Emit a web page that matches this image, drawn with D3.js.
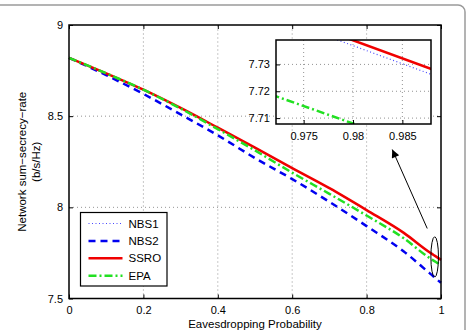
<!DOCTYPE html>
<html>
<head>
<meta charset="utf-8">
<script src="https://cdn.jsdelivr.net/npm/d3@7"></script>
<style>
  body { margin: 0; background: #fff; }
  text { font-family: "Liberation Sans", Arial, sans-serif; }
</style>
</head>
<body>
<div id="chart"></div>
<script>
// data
const prob = [0, 0.1, 0.2, 0.3, 0.4, 0.5, 0.6, 0.7, 0.8, 0.9, 0.97, 0.98, 0.99, 1];
const nbs1 = [8.819, 8.734, 8.644, 8.544, 8.436, 8.326, 8.214, 8.104, 7.984, 7.859, 7.7505, 7.737, 7.7235, 7.710];
const nbs2 = [8.82, 8.725, 8.622, 8.51, 8.395, 8.27, 8.155, 8.03, 7.897, 7.758, 7.638, 7.621, 7.603, 7.586];
const ssro = [8.82, 8.735, 8.645, 8.545, 8.437, 8.327, 8.215, 8.105, 7.985, 7.86, 7.7525, 7.739, 7.7255, 7.712];
const epa = [8.82, 8.735, 8.645, 8.542, 8.429, 8.312, 8.19, 8.074, 7.955, 7.83, 7.721, 7.708, 7.695, 7.682];

const xTicks = [0, 0.2, 0.4, 0.6, 0.8, 1];
const yTicks = [7.5, 8, 8.5, 9];
const insetXTicks = [0.975, 0.98, 0.985];
const insetYTicks = [7.71, 7.72, 7.73];

const series = [
  { name: "NBS1", values: nbs1, color: "#4848ff", width: 1.2, dash: "1,2.5" },
  { name: "NBS2", values: nbs2, color: "#0000f0", width: 2.5, dash: "7,5" },
  { name: "SSRO", values: ssro, color: "#f00000", width: 2.5, dash: null },
  { name: "EPA", values: epa, color: "#22e022", width: 2.5, dash: "8,3,2,3" }
];

const width = 468, height = 330;
const margin = { top: 25, right: 27, bottom: 31.5, left: 69 };

const svg = d3.select("#chart").append("svg")
  .attr("width", width)
  .attr("height", height);

// figure frame
svg.append("rect")
  .attr("x", -10).attr("y", 5)
  .attr("width", 475).attr("height", 340)
  .attr("rx", 7)
  .attr("fill", "none")
  .attr("stroke", "#9a9a9a")
  .attr("stroke-width", 1.5);

const x = d3.scaleLinear().domain([0, 1]).range([margin.left, width - margin.right]);
const y = d3.scaleLinear().domain([7.5, 9]).range([height - margin.bottom, margin.top]);

// grid
svg.append("g")
  .selectAll("line")
  .data(xTicks.slice(1, -1))
  .join("line")
  .attr("x1", d => x(d)).attr("x2", d => x(d))
  .attr("y1", y(7.5)).attr("y2", y(9))
  .attr("stroke", "#777").attr("stroke-width", 0.8)
  .attr("stroke-dasharray", "1,3");
svg.append("g")
  .selectAll("line")
  .data(yTicks.slice(1, -1))
  .join("line")
  .attr("x1", x(0)).attr("x2", x(1))
  .attr("y1", d => y(d)).attr("y2", d => y(d))
  .attr("stroke", "#777").attr("stroke-width", 0.8)
  .attr("stroke-dasharray", "1,3");

const line = d3.line()
  .x((d, i) => x(prob[i]))
  .y(d => y(d))
  .curve(d3.curveMonotoneX);

series.forEach(s => {
  svg.append("path")
    .datum(s.values)
    .attr("d", line)
    .attr("fill", "none")
    .attr("stroke", s.color)
    .attr("stroke-width", s.width)
    .attr("stroke-dasharray", s.dash);
});

// axes (inward ticks, matlab style)
function styleAxis(g) {
  g.select(".domain").remove();
  g.selectAll("text").attr("font-size", 11).attr("fill", "#000");
  g.selectAll("line").attr("stroke", "#000");
}
svg.append("g")
  .attr("transform", `translate(0,${y(7.5)})`)
  .call(d3.axisBottom(x).tickValues(xTicks).tickFormat(d3.format("")).tickSizeInner(-4).tickPadding(8))
  .call(styleAxis);
svg.append("g")
  .attr("transform", `translate(0,${y(9)})`)
  .call(d3.axisTop(x).tickValues(xTicks).tickFormat("").tickSizeInner(-4))
  .call(styleAxis);
svg.append("g")
  .attr("transform", `translate(${x(0)},0)`)
  .call(d3.axisLeft(y).tickValues(yTicks).tickFormat(d3.format("")).tickSizeInner(-4).tickPadding(6))
  .call(styleAxis);
svg.append("g")
  .attr("transform", `translate(${x(1)},0)`)
  .call(d3.axisRight(y).tickValues(yTicks).tickFormat("").tickSizeInner(-4))
  .call(styleAxis);

svg.append("rect")
  .attr("x", x(0)).attr("y", y(9))
  .attr("width", x(1) - x(0)).attr("height", y(7.5) - y(9))
  .attr("fill", "none").attr("stroke", "#000").attr("stroke-width", 1.5);

// axis labels
svg.append("text")
  .attr("x", (x(0) + x(1)) / 2).attr("y", 328)
  .attr("text-anchor", "middle").attr("font-size", 11.5)
  .text("Eavesdropping Probability");
const yl = svg.append("text")
  .attr("transform", `translate(26,${(y(7.5) + y(9)) / 2}) rotate(-90)`)
  .attr("text-anchor", "middle").attr("font-size", 11.5);
yl.append("tspan").attr("x", 0).attr("dy", 0).text("Network sum\u2212secrecy\u2212rate");
yl.append("tspan").attr("x", 0).attr("dy", 14).text("(b/s/Hz)");

// ellipse + arrow annotation
svg.append("ellipse")
  .attr("cx", x(0.983)).attr("cy", y(7.728))
  .attr("rx", 3.8).attr("ry", y(7.62) - y(7.728) + 0.5)
  .attr("fill", "none").attr("stroke", "#000").attr("stroke-width", 1);
svg.append("defs").append("marker")
  .attr("id", "arrow")
  .attr("viewBox", "0 0 10 10")
  .attr("refX", 10).attr("refY", 5)
  .attr("markerWidth", 11).attr("markerHeight", 8)
  .attr("markerUnits", "userSpaceOnUse")
  .attr("orient", "auto")
  .append("path").attr("d", "M0,0L10,5L0,10Z").attr("fill", "#000");
svg.append("line")
  .attr("x1", x(0.963)).attr("y1", y(7.884))
  .attr("x2", x(0.869)).attr("y2", y(8.317))
  .attr("stroke", "#000").attr("stroke-width", 1)
  .attr("marker-end", "url(#arrow)");

// legend
const lg = svg.append("g").attr("transform", "translate(80.5,212.5)");
lg.append("rect").attr("width", 86.5).attr("height", 73.5)
  .attr("fill", "#fff").attr("stroke", "#000").attr("stroke-width", 1.2);
series.forEach((s, i) => {
  const yy = 11 + i * 17.4;
  lg.append("line")
    .attr("x1", 8).attr("x2", 42).attr("y1", yy).attr("y2", yy)
    .attr("stroke", s.color).attr("stroke-width", s.width)
    .attr("stroke-dasharray", s.dash);
  lg.append("text").attr("x", 48).attr("y", yy + 4)
    .attr("font-size", 11.5).text(s.name);
});

// inset
const ix = d3.scaleLinear().domain([0.9722, 0.9879]).range([276, 431]);
const iy = d3.scaleLinear().domain([7.7078, 7.7391]).range([124, 40]);
const inset = svg.append("g");
inset.append("rect")
  .attr("x", 276).attr("y", 40).attr("width", 155).attr("height", 84)
  .attr("fill", "#fff");
inset.append("clipPath").attr("id", "iclip")
  .append("rect").attr("x", 276).attr("y", 40).attr("width", 155).attr("height", 84);
inset.append("g").selectAll("line")
  .data(insetXTicks).join("line")
  .attr("x1", d => ix(d)).attr("x2", d => ix(d))
  .attr("y1", 40).attr("y2", 124)
  .attr("stroke", "#777").attr("stroke-width", 0.8).attr("stroke-dasharray", "1,3");
inset.append("g").selectAll("line")
  .data(insetYTicks).join("line")
  .attr("x1", 276).attr("x2", 431)
  .attr("y1", d => iy(d)).attr("y2", d => iy(d))
  .attr("stroke", "#777").attr("stroke-width", 0.8).attr("stroke-dasharray", "1,3");
const iline = d3.line().x((d, i) => ix(prob[i])).y(d => iy(d));
const ilines = inset.append("g").attr("clip-path", "url(#iclip)");
series.forEach(s => {
  ilines.append("path")
    .datum(s.values)
    .attr("d", iline)
    .attr("fill", "none")
    .attr("stroke", s.color)
    .attr("stroke-width", s.width)
    .attr("stroke-dasharray", s.dash);
});
inset.append("g")
  .attr("transform", "translate(0,124)")
  .call(d3.axisBottom(ix).tickValues(insetXTicks).tickFormat(d3.format("")).tickSizeInner(-4).tickPadding(8))
  .call(styleAxis);
inset.append("g")
  .attr("transform", "translate(276,0)")
  .call(d3.axisLeft(iy).tickValues(insetYTicks).tickFormat(d3.format("")).tickSizeInner(-4).tickPadding(6))
  .call(styleAxis);
inset.append("rect")
  .attr("x", 276).attr("y", 40).attr("width", 155).attr("height", 84)
  .attr("fill", "none").attr("stroke", "#000").attr("stroke-width", 1.5);
</script>
</body>
</html>
